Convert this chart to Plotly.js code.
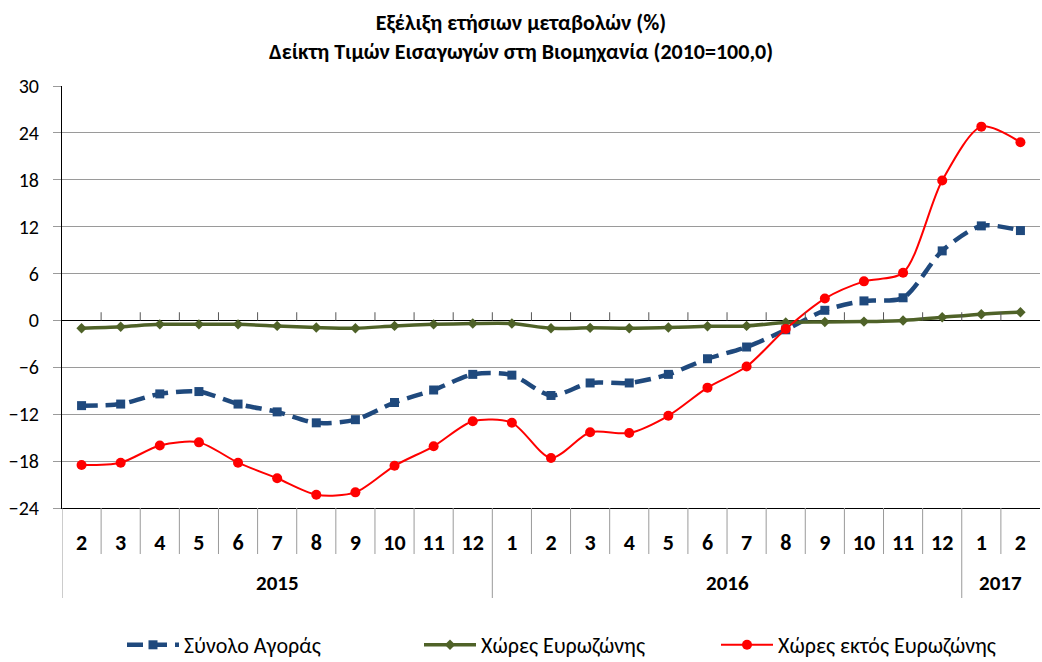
<!DOCTYPE html>
<html>
<head>
<meta charset="utf-8">
<script src="https://cdn.plot.ly/plotly-3.0.1.min.js"></script>
<style>html,body{margin:0;padding:0;background:#fff;}#chart{width:1042px;height:662px;}</style>
</head>
<body>
<div id="chart"></div>
<script>
const years = ['2015','2015','2015','2015','2015','2015','2015','2015','2015','2015','2015',
  '2016','2016','2016','2016','2016','2016','2016','2016','2016','2016','2016','2016',
  '2017','2017'];
const months = ['2','3','4','5','6','7','8','9','10','11','12',
  '1','2','3','4','5','6','7','8','9','10','11','12',
  '1','2'];
const totalMarket = [-10.9,-10.7,-9.4,-9.1,-10.7,-11.7,-13.1,-12.7,-10.5,-8.9,-6.9,
  -7.0,-9.6,-8.0,-8.0,-6.9,-4.9,-3.4,-1.2,1.3,2.5,2.9,8.9,12.1,11.5];
const euroZone = [-1.0,-0.8,-0.5,-0.5,-0.5,-0.7,-0.9,-1.0,-0.7,-0.5,-0.4,
  -0.4,-1.0,-0.95,-1.0,-0.9,-0.75,-0.7,-0.25,-0.2,-0.15,0.0,0.4,0.8,1.05];
const nonEuroZone = [-18.5,-18.2,-16.0,-15.6,-18.2,-20.2,-22.3,-22.0,-18.6,-16.1,-12.9,
  -13.1,-17.6,-14.3,-14.4,-12.2,-8.6,-5.9,-1.1,2.8,5.0,6.1,17.9,24.8,22.8];
const seriesNames = ['Σύνολο Αγοράς','Χώρες Ευρωζώνης','Χώρες εκτός Ευρωζώνης'];
const yTicks = [-24,-18,-12,-6,0,6,12,18,24,30];
const titleLines = ['Εξέλιξη ετήσιων μεταβολών (%)', 'Δείκτη Τιμών Εισαγωγών στη Βιομηχανία (2010=100,0)'];

const FONT = 'Calibri, Carlito, Roboto, Arial, sans-serif';
const keys = years.map((y, i) => y + '-' + months[i]);

const traces = [
  {x: keys, y: totalMarket, name: seriesNames[0], type: 'scatter', mode: 'lines+markers',
   line: {color: '#1F497D', width: 4.5, dash: '16px,8px', shape: 'spline', smoothing: 0.8},
   marker: {symbol: 'square', size: 9, color: '#1F497D'}},
  {x: keys, y: euroZone, name: seriesNames[1], type: 'scatter', mode: 'lines+markers',
   line: {color: '#4F6228', width: 3.5, shape: 'spline', smoothing: 0.8},
   marker: {symbol: 'diamond', size: 8, color: '#4F6228'}},
  {x: keys, y: nonEuroZone, name: seriesNames[2], type: 'scatter', mode: 'lines+markers',
   line: {color: '#FF0000', width: 2, shape: 'spline', smoothing: 0.8},
   marker: {symbol: 'circle', size: 10, color: '#FF0000'}}
];

const plotW = 1042 - 62 - 2;
const plotH = 662 - 86 - 154;
const monthRow = 46 / plotH, yearRow = 90 / plotH, yearLabel = 75 / plotH;

const shapes = [];
const annotations = [];
const groups = [];
years.forEach((y, i) => {
  if (!groups.length || groups[groups.length - 1].year !== y) groups.push({year: y, start: i, end: i});
  else groups[groups.length - 1].end = i;
});
for (let i = 0; i < months.length; i++) {
  const isYearStart = groups.some(g => g.start === i);
  shapes.push({type: 'line', xref: 'x', yref: 'paper', x0: i - 0.5, x1: i - 0.5,
    y0: 0, y1: -(isYearStart ? yearRow : monthRow), line: {color: '#9a9a9a', width: 1}});
  if (i > 0) shapes.push({type: 'line', xref: 'x', yref: 'y', x0: i - 0.5, x1: i - 0.5,
    y0: 0, y1: 1.05, line: {color: '#555', width: 1}});
}
groups.forEach(g => {
  annotations.push({xref: 'x', yref: 'paper', x: (g.start + g.end) / 2, y: -yearLabel,
    text: '<b>' + g.year + '</b>', showarrow: false, yanchor: 'middle',
    font: {family: FONT, size: 21, color: '#000'}});
});
annotations.push({xref: 'paper', yref: 'paper', x: (521 - 62) / plotW, xanchor: 'center',
  y: 1 + (86 - 51) / plotH, yanchor: 'middle',
  text: '<b>' + titleLines[1] + '</b>', showarrow: false, font: {family: FONT, size: 22, color: '#000'}});

const layout = {
  width: 1042, height: 662,
  paper_bgcolor: '#fff', plot_bgcolor: '#fff',
  font: {family: FONT, color: '#000', size: 17},
  margin: {l: 62, r: 2, t: 86, b: 154, autoexpand: false},
  title: {text: '<b>' + titleLines[0] + '</b>',
    font: {family: FONT, size: 22, color: '#000'}, x: 0.5, xanchor: 'center',
    yref: 'container', y: 1 - 22 / 662, yanchor: 'middle'},
  showlegend: true,
  legend: {orientation: 'h', x: 60 / plotW, xanchor: 'left', y: -(645 - 508) / plotH, yanchor: 'middle',
    font: {family: FONT, size: 22, color: '#000'}, itemwidth: 52, entrywidth: 230, entrywidthmode: 'pixels'},
  shapes: shapes,
  annotations: annotations,
  xaxis: {type: 'category', range: [-0.5, months.length - 0.5], automargin: false,
    tickmode: 'array', tickvals: keys, ticktext: months,
    showline: true, linecolor: '#000', linewidth: 1,
    ticks: '', ticklabelstandoff: 15,
    tickfont: {family: FONT, size: 22, color: '#000', weight: 'bold'},
    showgrid: false, zeroline: false},
  yaxis: {range: [-24, 30], tickmode: 'array', tickvals: yTicks, automargin: false,
    showgrid: true, gridcolor: '#9a9a9a', gridwidth: 1,
    zeroline: true, zerolinecolor: '#000', zerolinewidth: 1,
    showline: true, linecolor: '#000', linewidth: 1,
    ticks: 'outside', ticklen: 8, tickcolor: '#9a9a9a', ticklabelstandoff: 10,
    tickfont: {family: FONT, size: 20, color: '#000'}}
};

Plotly.newPlot('chart', traces, layout, {displayModeBar: false, staticPlot: true});
</script>
</body>
</html>
